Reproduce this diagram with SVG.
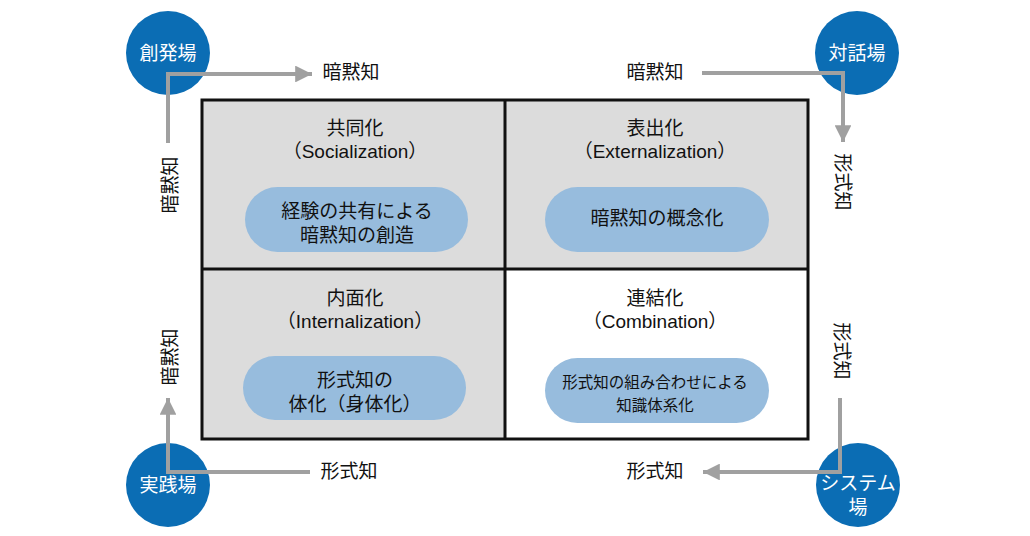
<svg xmlns="http://www.w3.org/2000/svg" width="1030" height="536" viewBox="0 0 1030 536">
<defs>
<style>
text{font-family:"Liberation Sans","Noto Sans CJK JP",sans-serif;fill:#111;text-anchor:middle}
.t{font-size:19px}
.p{font-size:19px}
.c{font-size:19px;fill:#fff}
.lbl{font-size:19px}
.q{fill:#dcdcdc}
.pill{fill:#97bcdd}
.circ{fill:#0b6db4}
.ln{fill:none;stroke:#a0a0a0;stroke-width:4}
</style>
<marker id="ah" viewBox="0 0 10 10" refX="10" refY="5" markerWidth="4.2" markerHeight="4.2" markerUnits="strokeWidth" orient="auto">
<path d="M0,0 L10,5 L0,10 z" fill="#a0a0a0"/>
</marker>
</defs>
<rect width="1030" height="536" fill="#fff"/>
<g id="matrix">
<rect class="q" x="202" y="100" width="303" height="169"/>
<rect class="q" x="505" y="100" width="303" height="169"/>
<rect class="q" x="202" y="269" width="303" height="170"/>
<rect x="505" y="269" width="303" height="170" fill="#fff"/>
<rect x="202" y="100" width="606" height="339" fill="none" stroke="#111" stroke-width="3"/>
<line x1="505" y1="100" x2="505" y2="439" stroke="#111" stroke-width="3"/>
<line x1="202" y1="269" x2="808" y2="269" stroke="#111" stroke-width="3"/>
</g>
<g id="socialization">
<text class="t" x="355" y="135">共同化</text>
<text class="t" x="355" y="158">（Socialization）</text>
<rect class="pill" x="245" y="187" width="223" height="65" rx="32.5"/>
<text class="p" x="357" y="218">経験の共有による</text>
<text class="p" x="357" y="242">暗黙知の創造</text>
</g>
<g id="externalization">
<text class="t" x="655" y="135">表出化</text>
<text class="t" x="655" y="158">（Externalization）</text>
<rect class="pill" x="545" y="187" width="224" height="65" rx="32.5"/>
<text class="p" x="657" y="225">暗黙知の概念化</text>
</g>
<g id="internalization">
<text class="t" x="355" y="305">内面化</text>
<text class="t" x="355" y="328">（Internalization）</text>
<rect class="pill" x="243" y="356" width="223" height="64" rx="32"/>
<text class="p" x="355" y="387">形式知の</text>
<text class="p" x="355" y="411">体化（身体化）</text>
</g>
<g id="combination">
<text class="t" x="655" y="305">連結化</text>
<text class="t" x="655" y="328">（Combination）</text>
<rect class="pill" x="545" y="358" width="224" height="65" rx="32.5"/>
<text class="p" x="655" y="388" style="font-size:15.5px">形式知の組み合わせによる</text>
<text class="p" x="655" y="411" style="font-size:15.5px">知識体系化</text>
</g>
<g id="sohatsuba">
<circle class="circ" cx="168" cy="53" r="42"/>
<text class="c" x="168" y="60">創発場</text>
</g>
<g id="taiwaba">
<circle class="circ" cx="857" cy="53" r="42"/>
<text class="c" x="857" y="60">対話場</text>
</g>
<g id="jissenba">
<circle class="circ" cx="168" cy="485" r="42"/>
<text class="c" x="168" y="492">実践場</text>
</g>
<g id="systemba">
<circle class="circ" cx="858" cy="485" r="42"/>
<text class="c" x="858" y="490">システム</text>
<text class="c" x="858" y="514">場</text>
</g>
<g id="connectors">
<path class="ln" d="M168,143 V74 H312" marker-end="url(#ah)"/>
<path class="ln" d="M702,73 H843 V142" marker-end="url(#ah)"/>
<path class="ln" d="M840,398 V472 H703" marker-end="url(#ah)"/>
<path class="ln" d="M310,472 H168 V398" marker-end="url(#ah)"/>
</g>
<g id="labels">
<text class="lbl" x="351" y="79">暗黙知</text>
<text class="lbl" x="655" y="79">暗黙知</text>
<text class="lbl" x="349" y="478">形式知</text>
<text class="lbl" x="655" y="478">形式知</text>
<text class="lbl" transform="translate(177,185) rotate(-90)">暗黙知</text>
<text class="lbl" transform="translate(177,357) rotate(-90)">暗黙知</text>
<text class="lbl" transform="translate(836,182) rotate(90)">形式知</text>
<text class="lbl" transform="translate(835,351) rotate(90)">形式知</text>
</g>
</svg>
